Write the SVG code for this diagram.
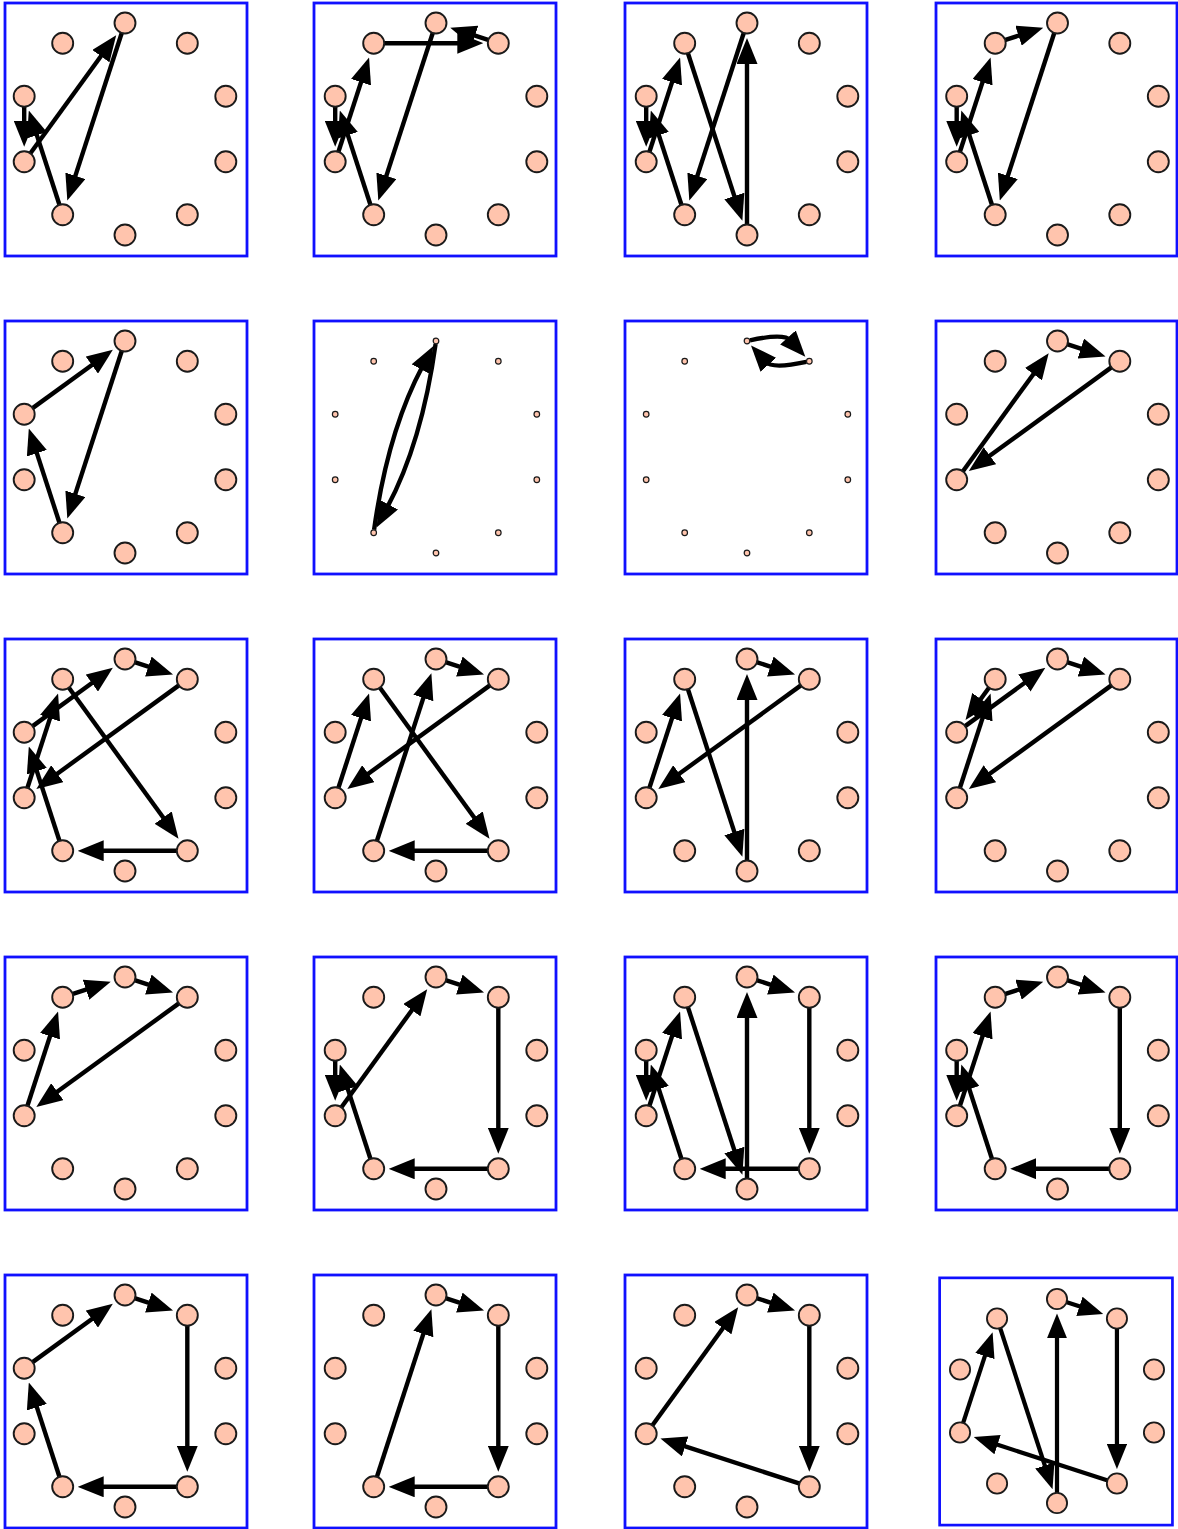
<svg xmlns="http://www.w3.org/2000/svg" width="1178" height="1529" viewBox="0 0 1178 1529">
<style>
.frame{fill:none;stroke:#1010ff;stroke-width:2.8}
.n{fill:#ffc4ad;stroke:#1a1a1a;stroke-width:1.9}
.t{fill:#ffc4ad;stroke:#1a1a1a;stroke-width:1.2}
.e{fill:none;stroke:#000;stroke-width:4.4;marker-end:url(#ah)}
</style>
<defs>
<marker id="ah" viewBox="0 0 26 21" markerWidth="26" markerHeight="21" refX="4" refY="10.5" orient="auto" markerUnits="userSpaceOnUse"><path d="M0,0 L26,10.5 L0,21 z" fill="#000"/></marker>
</defs>
<rect width="1178" height="1529" fill="#fff"/>

<!-- Row 1 -->
<g id="r1c1" transform="translate(125,129)">
<rect class="frame" x="-120" y="-126" width="242" height="253"/>
<g id="r1c1-edges">
<path class="e" d="M-94.93,24.67 L-21.75,-76.07"/>
<path class="e" d="M-3.09,-96.49 L-50.88,50.57"/>
<path class="e" d="M-65.40,76.25 L-89.38,2.43"/>
<path class="e" d="M-100.81,-22.76 L-100.81,-4.24"/>
</g>
<g id="r1c1-n0"><circle class="n" cx="0" cy="-106" r="10.5"/></g>
<g id="r1c1-n1"><circle class="n" cx="62.31" cy="-85.76" r="10.5"/></g>
<g id="r1c1-n2"><circle class="n" cx="100.81" cy="-32.76" r="10.5"/></g>
<g id="r1c1-n3"><circle class="n" cx="100.81" cy="32.76" r="10.5"/></g>
<g id="r1c1-n4"><circle class="n" cx="62.31" cy="85.76" r="10.5"/></g>
<g id="r1c1-n5"><circle class="n" cx="0" cy="106" r="10.5"/></g>
<g id="r1c1-n6"><circle class="n" cx="-62.31" cy="85.76" r="10.5"/></g>
<g id="r1c1-n7"><circle class="n" cx="-100.81" cy="32.76" r="10.5"/></g>
<g id="r1c1-n8"><circle class="n" cx="-100.81" cy="-32.76" r="10.5"/></g>
<g id="r1c1-n9"><circle class="n" cx="-62.31" cy="-85.76" r="10.5"/></g>
</g>

<g id="r1c2" transform="translate(436,129)">
<rect class="frame" x="-122" y="-126" width="242" height="253"/>
<g id="r1c2-edges">
<path class="e" d="M-52.31,-85.76 L25.31,-85.76"/>
<path class="e" d="M52.80,-88.85 L35.19,-94.57"/>
<path class="e" d="M-3.09,-96.49 L-50.88,50.57"/>
<path class="e" d="M-65.40,76.25 L-89.38,2.43"/>
<path class="e" d="M-100.81,-22.76 L-100.81,-4.24"/>
<path class="e" d="M-97.72,23.25 L-73.74,-50.57"/>
</g>
<g id="r1c2-n0"><circle class="n" cx="0" cy="-106" r="10.5"/></g>
<g id="r1c2-n1"><circle class="n" cx="62.31" cy="-85.76" r="10.5"/></g>
<g id="r1c2-n2"><circle class="n" cx="100.81" cy="-32.76" r="10.5"/></g>
<g id="r1c2-n3"><circle class="n" cx="100.81" cy="32.76" r="10.5"/></g>
<g id="r1c2-n4"><circle class="n" cx="62.31" cy="85.76" r="10.5"/></g>
<g id="r1c2-n5"><circle class="n" cx="0" cy="106" r="10.5"/></g>
<g id="r1c2-n6"><circle class="n" cx="-62.31" cy="85.76" r="10.5"/></g>
<g id="r1c2-n7"><circle class="n" cx="-100.81" cy="32.76" r="10.5"/></g>
<g id="r1c2-n8"><circle class="n" cx="-100.81" cy="-32.76" r="10.5"/></g>
<g id="r1c2-n9"><circle class="n" cx="-62.31" cy="-85.76" r="10.5"/></g>
</g>

<g id="r1c3" transform="translate(747,129)">
<rect class="frame" x="-122" y="-126" width="242" height="253"/>
<g id="r1c3-edges">
<path class="e" d="M-3.09,-96.49 L-50.88,50.57"/>
<path class="e" d="M-65.40,76.25 L-89.38,2.43"/>
<path class="e" d="M-100.81,-22.76 L-100.81,-4.24"/>
<path class="e" d="M-97.72,23.25 L-73.74,-50.57"/>
<path class="e" d="M-59.22,-76.25 L-11.43,70.81"/>
<path class="e" d="M0,96 L0,-69"/>
</g>
<g id="r1c3-n0"><circle class="n" cx="0" cy="-106" r="10.5"/></g>
<g id="r1c3-n1"><circle class="n" cx="62.31" cy="-85.76" r="10.5"/></g>
<g id="r1c3-n2"><circle class="n" cx="100.81" cy="-32.76" r="10.5"/></g>
<g id="r1c3-n3"><circle class="n" cx="100.81" cy="32.76" r="10.5"/></g>
<g id="r1c3-n4"><circle class="n" cx="62.31" cy="85.76" r="10.5"/></g>
<g id="r1c3-n5"><circle class="n" cx="0" cy="106" r="10.5"/></g>
<g id="r1c3-n6"><circle class="n" cx="-62.31" cy="85.76" r="10.5"/></g>
<g id="r1c3-n7"><circle class="n" cx="-100.81" cy="32.76" r="10.5"/></g>
<g id="r1c3-n8"><circle class="n" cx="-100.81" cy="-32.76" r="10.5"/></g>
<g id="r1c3-n9"><circle class="n" cx="-62.31" cy="-85.76" r="10.5"/></g>
</g>

<g id="r1c4" transform="translate(1057.5,129)">
<rect class="frame" x="-121.5" y="-126" width="241" height="253"/>
<g id="r1c4-edges">
<path class="e" d="M-52.80,-88.85 L-35.19,-94.57"/>
<path class="e" d="M-3.09,-96.49 L-50.88,50.57"/>
<path class="e" d="M-65.40,76.25 L-89.38,2.43"/>
<path class="e" d="M-100.81,-22.76 L-100.81,-4.24"/>
<path class="e" d="M-97.72,23.25 L-73.74,-50.57"/>
</g>
<g id="r1c4-n0"><circle class="n" cx="0" cy="-106" r="10.5"/></g>
<g id="r1c4-n1"><circle class="n" cx="62.31" cy="-85.76" r="10.5"/></g>
<g id="r1c4-n2"><circle class="n" cx="100.81" cy="-32.76" r="10.5"/></g>
<g id="r1c4-n3"><circle class="n" cx="100.81" cy="32.76" r="10.5"/></g>
<g id="r1c4-n4"><circle class="n" cx="62.31" cy="85.76" r="10.5"/></g>
<g id="r1c4-n5"><circle class="n" cx="0" cy="106" r="10.5"/></g>
<g id="r1c4-n6"><circle class="n" cx="-62.31" cy="85.76" r="10.5"/></g>
<g id="r1c4-n7"><circle class="n" cx="-100.81" cy="32.76" r="10.5"/></g>
<g id="r1c4-n8"><circle class="n" cx="-100.81" cy="-32.76" r="10.5"/></g>
<g id="r1c4-n9"><circle class="n" cx="-62.31" cy="-85.76" r="10.5"/></g>
</g>

<!-- Row 2 -->
<g id="r2c1" transform="translate(125,447)">
<rect class="frame" x="-120" y="-126" width="242" height="253"/>
<g id="r2c1-edges">
<path class="e" d="M-92.72,-38.64 L-29.93,-84.25"/>
<path class="e" d="M-3.09,-96.49 L-50.88,50.57"/>
<path class="e" d="M-65.40,76.25 L-89.38,2.43"/>
</g>
<g id="r2c1-n0"><circle class="n" cx="0" cy="-106" r="10.5"/></g>
<g id="r2c1-n1"><circle class="n" cx="62.31" cy="-85.76" r="10.5"/></g>
<g id="r2c1-n2"><circle class="n" cx="100.81" cy="-32.76" r="10.5"/></g>
<g id="r2c1-n3"><circle class="n" cx="100.81" cy="32.76" r="10.5"/></g>
<g id="r2c1-n4"><circle class="n" cx="62.31" cy="85.76" r="10.5"/></g>
<g id="r2c1-n5"><circle class="n" cx="0" cy="106" r="10.5"/></g>
<g id="r2c1-n6"><circle class="n" cx="-62.31" cy="85.76" r="10.5"/></g>
<g id="r2c1-n7"><circle class="n" cx="-100.81" cy="32.76" r="10.5"/></g>
<g id="r2c1-n8"><circle class="n" cx="-100.81" cy="-32.76" r="10.5"/></g>
<g id="r2c1-n9"><circle class="n" cx="-62.31" cy="-85.76" r="10.5"/></g>
</g>

<g id="r2c2" transform="translate(436,447)">
<rect class="frame" x="-122" y="-126" width="242" height="253"/>
<g id="r2c2-edges">
<path class="e" d="M-0.41,-103.03 Q-14.04,-4.56 -49.11,61.07"/>
<path class="e" d="M-61.90,82.79 Q-48.28,-15.68 -13.20,-81.30"/>
</g>
<g id="r2c2-n0"><circle class="t" cx="0" cy="-106" r="2.8"/></g>
<g id="r2c2-n1"><circle class="t" cx="62.31" cy="-85.76" r="2.8"/></g>
<g id="r2c2-n2"><circle class="t" cx="100.81" cy="-32.76" r="2.8"/></g>
<g id="r2c2-n3"><circle class="t" cx="100.81" cy="32.76" r="2.8"/></g>
<g id="r2c2-n4"><circle class="t" cx="62.31" cy="85.76" r="2.8"/></g>
<g id="r2c2-n5"><circle class="t" cx="0" cy="106" r="2.8"/></g>
<g id="r2c2-n6"><circle class="t" cx="-62.31" cy="85.76" r="2.8"/></g>
<g id="r2c2-n7"><circle class="t" cx="-100.81" cy="32.76" r="2.8"/></g>
<g id="r2c2-n8"><circle class="t" cx="-100.81" cy="-32.76" r="2.8"/></g>
<g id="r2c2-n9"><circle class="t" cx="-62.31" cy="-85.76" r="2.8"/></g>
</g>

<g id="r2c3" transform="translate(747,447)">
<rect class="frame" x="-122" y="-126" width="242" height="253"/>
<g id="r2c3-edges">
<path class="e" d="M2.93,-106.63 Q37.03,-113.95 43.62,-106.61"/>
<path class="e" d="M59.38,-85.13 Q25.28,-77.81 18.69,-85.15"/>
</g>
<g id="r2c3-n0"><circle class="t" cx="0" cy="-106" r="2.8"/></g>
<g id="r2c3-n1"><circle class="t" cx="62.31" cy="-85.76" r="2.8"/></g>
<g id="r2c3-n2"><circle class="t" cx="100.81" cy="-32.76" r="2.8"/></g>
<g id="r2c3-n3"><circle class="t" cx="100.81" cy="32.76" r="2.8"/></g>
<g id="r2c3-n4"><circle class="t" cx="62.31" cy="85.76" r="2.8"/></g>
<g id="r2c3-n5"><circle class="t" cx="0" cy="106" r="2.8"/></g>
<g id="r2c3-n6"><circle class="t" cx="-62.31" cy="85.76" r="2.8"/></g>
<g id="r2c3-n7"><circle class="t" cx="-100.81" cy="32.76" r="2.8"/></g>
<g id="r2c3-n8"><circle class="t" cx="-100.81" cy="-32.76" r="2.8"/></g>
<g id="r2c3-n9"><circle class="t" cx="-62.31" cy="-85.76" r="2.8"/></g>
</g>

<g id="r2c4" transform="translate(1057.5,447)">
<rect class="frame" x="-121.5" y="-126" width="241" height="253"/>
<g id="r2c4-edges">
<path class="e" d="M9.51,-102.91 L27.12,-97.19"/>
<path class="e" d="M54.22,-79.88 L-70.88,11.01"/>
<path class="e" d="M-94.93,24.67 L-21.75,-76.07"/>
</g>
<g id="r2c4-n0"><circle class="n" cx="0" cy="-106" r="10.5"/></g>
<g id="r2c4-n1"><circle class="n" cx="62.31" cy="-85.76" r="10.5"/></g>
<g id="r2c4-n2"><circle class="n" cx="100.81" cy="-32.76" r="10.5"/></g>
<g id="r2c4-n3"><circle class="n" cx="100.81" cy="32.76" r="10.5"/></g>
<g id="r2c4-n4"><circle class="n" cx="62.31" cy="85.76" r="10.5"/></g>
<g id="r2c4-n5"><circle class="n" cx="0" cy="106" r="10.5"/></g>
<g id="r2c4-n6"><circle class="n" cx="-62.31" cy="85.76" r="10.5"/></g>
<g id="r2c4-n7"><circle class="n" cx="-100.81" cy="32.76" r="10.5"/></g>
<g id="r2c4-n8"><circle class="n" cx="-100.81" cy="-32.76" r="10.5"/></g>
<g id="r2c4-n9"><circle class="n" cx="-62.31" cy="-85.76" r="10.5"/></g>
</g>

<!-- Row 3 -->
<g id="r3c1" transform="translate(125,765)">
<rect class="frame" x="-120" y="-126" width="242" height="253"/>
<g id="r3c1-edges">
<path class="e" d="M9.51,-102.91 L27.12,-97.19"/>
<path class="e" d="M54.22,-79.88 L-70.88,11.01"/>
<path class="e" d="M-97.72,23.25 L-73.74,-50.57"/>
<path class="e" d="M-56.43,-77.67 L40.56,55.83"/>
<path class="e" d="M52.31,85.76 L-25.31,85.76"/>
<path class="e" d="M-65.40,76.25 L-89.38,2.43"/>
<path class="e" d="M-92.72,-38.64 L-29.93,-84.25"/>
</g>
<g id="r3c1-n0"><circle class="n" cx="0" cy="-106" r="10.5"/></g>
<g id="r3c1-n1"><circle class="n" cx="62.31" cy="-85.76" r="10.5"/></g>
<g id="r3c1-n2"><circle class="n" cx="100.81" cy="-32.76" r="10.5"/></g>
<g id="r3c1-n3"><circle class="n" cx="100.81" cy="32.76" r="10.5"/></g>
<g id="r3c1-n4"><circle class="n" cx="62.31" cy="85.76" r="10.5"/></g>
<g id="r3c1-n5"><circle class="n" cx="0" cy="106" r="10.5"/></g>
<g id="r3c1-n6"><circle class="n" cx="-62.31" cy="85.76" r="10.5"/></g>
<g id="r3c1-n7"><circle class="n" cx="-100.81" cy="32.76" r="10.5"/></g>
<g id="r3c1-n8"><circle class="n" cx="-100.81" cy="-32.76" r="10.5"/></g>
<g id="r3c1-n9"><circle class="n" cx="-62.31" cy="-85.76" r="10.5"/></g>
</g>

<g id="r3c2" transform="translate(436,765)">
<rect class="frame" x="-122" y="-126" width="242" height="253"/>
<g id="r3c2-edges">
<path class="e" d="M9.51,-102.91 L27.12,-97.19"/>
<path class="e" d="M54.22,-79.88 L-70.88,11.01"/>
<path class="e" d="M-97.72,23.25 L-73.74,-50.57"/>
<path class="e" d="M-56.43,-77.67 L40.56,55.83"/>
<path class="e" d="M52.31,85.76 L-25.31,85.76"/>
<path class="e" d="M-59.22,76.25 L-11.43,-70.81"/>
</g>
<g id="r3c2-n0"><circle class="n" cx="0" cy="-106" r="10.5"/></g>
<g id="r3c2-n1"><circle class="n" cx="62.31" cy="-85.76" r="10.5"/></g>
<g id="r3c2-n2"><circle class="n" cx="100.81" cy="-32.76" r="10.5"/></g>
<g id="r3c2-n3"><circle class="n" cx="100.81" cy="32.76" r="10.5"/></g>
<g id="r3c2-n4"><circle class="n" cx="62.31" cy="85.76" r="10.5"/></g>
<g id="r3c2-n5"><circle class="n" cx="0" cy="106" r="10.5"/></g>
<g id="r3c2-n6"><circle class="n" cx="-62.31" cy="85.76" r="10.5"/></g>
<g id="r3c2-n7"><circle class="n" cx="-100.81" cy="32.76" r="10.5"/></g>
<g id="r3c2-n8"><circle class="n" cx="-100.81" cy="-32.76" r="10.5"/></g>
<g id="r3c2-n9"><circle class="n" cx="-62.31" cy="-85.76" r="10.5"/></g>
</g>

<g id="r3c3" transform="translate(747,765)">
<rect class="frame" x="-122" y="-126" width="242" height="253"/>
<g id="r3c3-edges">
<path class="e" d="M9.51,-102.91 L27.12,-97.19"/>
<path class="e" d="M54.22,-79.88 L-70.88,11.01"/>
<path class="e" d="M-97.72,23.25 L-73.74,-50.57"/>
<path class="e" d="M-59.22,-76.25 L-11.43,70.81"/>
<path class="e" d="M0,96 L0,-69"/>
</g>
<g id="r3c3-n0"><circle class="n" cx="0" cy="-106" r="10.5"/></g>
<g id="r3c3-n1"><circle class="n" cx="62.31" cy="-85.76" r="10.5"/></g>
<g id="r3c3-n2"><circle class="n" cx="100.81" cy="-32.76" r="10.5"/></g>
<g id="r3c3-n3"><circle class="n" cx="100.81" cy="32.76" r="10.5"/></g>
<g id="r3c3-n4"><circle class="n" cx="62.31" cy="85.76" r="10.5"/></g>
<g id="r3c3-n5"><circle class="n" cx="0" cy="106" r="10.5"/></g>
<g id="r3c3-n6"><circle class="n" cx="-62.31" cy="85.76" r="10.5"/></g>
<g id="r3c3-n7"><circle class="n" cx="-100.81" cy="32.76" r="10.5"/></g>
<g id="r3c3-n8"><circle class="n" cx="-100.81" cy="-32.76" r="10.5"/></g>
<g id="r3c3-n9"><circle class="n" cx="-62.31" cy="-85.76" r="10.5"/></g>
</g>

<g id="r3c4" transform="translate(1057.5,765)">
<rect class="frame" x="-121.5" y="-126" width="241" height="253"/>
<g id="r3c4-edges">
<path class="e" d="M9.51,-102.91 L27.12,-97.19"/>
<path class="e" d="M54.22,-79.88 L-70.88,11.01"/>
<path class="e" d="M-97.72,23.25 L-73.74,-50.57"/>
<path class="e" d="M-68.19,-77.67 L-79.06,-62.69"/>
<path class="e" d="M-92.72,-38.64 L-29.93,-84.25"/>
</g>
<g id="r3c4-n0"><circle class="n" cx="0" cy="-106" r="10.5"/></g>
<g id="r3c4-n1"><circle class="n" cx="62.31" cy="-85.76" r="10.5"/></g>
<g id="r3c4-n2"><circle class="n" cx="100.81" cy="-32.76" r="10.5"/></g>
<g id="r3c4-n3"><circle class="n" cx="100.81" cy="32.76" r="10.5"/></g>
<g id="r3c4-n4"><circle class="n" cx="62.31" cy="85.76" r="10.5"/></g>
<g id="r3c4-n5"><circle class="n" cx="0" cy="106" r="10.5"/></g>
<g id="r3c4-n6"><circle class="n" cx="-62.31" cy="85.76" r="10.5"/></g>
<g id="r3c4-n7"><circle class="n" cx="-100.81" cy="32.76" r="10.5"/></g>
<g id="r3c4-n8"><circle class="n" cx="-100.81" cy="-32.76" r="10.5"/></g>
<g id="r3c4-n9"><circle class="n" cx="-62.31" cy="-85.76" r="10.5"/></g>
</g>

<!-- Row 4 -->
<g id="r4c1" transform="translate(125,1083)">
<rect class="frame" x="-120" y="-126" width="242" height="253"/>
<g id="r4c1-edges">
<path class="e" d="M-52.80,-88.85 L-35.19,-94.57"/>
<path class="e" d="M9.51,-102.91 L27.12,-97.19"/>
<path class="e" d="M54.22,-79.88 L-70.88,11.01"/>
<path class="e" d="M-97.72,23.25 L-73.74,-50.57"/>
</g>
<g id="r4c1-n0"><circle class="n" cx="0" cy="-106" r="10.5"/></g>
<g id="r4c1-n1"><circle class="n" cx="62.31" cy="-85.76" r="10.5"/></g>
<g id="r4c1-n2"><circle class="n" cx="100.81" cy="-32.76" r="10.5"/></g>
<g id="r4c1-n3"><circle class="n" cx="100.81" cy="32.76" r="10.5"/></g>
<g id="r4c1-n4"><circle class="n" cx="62.31" cy="85.76" r="10.5"/></g>
<g id="r4c1-n5"><circle class="n" cx="0" cy="106" r="10.5"/></g>
<g id="r4c1-n6"><circle class="n" cx="-62.31" cy="85.76" r="10.5"/></g>
<g id="r4c1-n7"><circle class="n" cx="-100.81" cy="32.76" r="10.5"/></g>
<g id="r4c1-n8"><circle class="n" cx="-100.81" cy="-32.76" r="10.5"/></g>
<g id="r4c1-n9"><circle class="n" cx="-62.31" cy="-85.76" r="10.5"/></g>
</g>

<g id="r4c2" transform="translate(436,1083)">
<rect class="frame" x="-122" y="-126" width="242" height="253"/>
<g id="r4c2-edges">
<path class="e" d="M9.51,-102.91 L27.12,-97.19"/>
<path class="e" d="M62.31,-75.76 L62.31,48.76"/>
<path class="e" d="M52.31,85.76 L-25.31,85.76"/>
<path class="e" d="M-65.40,76.25 L-89.38,2.43"/>
<path class="e" d="M-100.81,-22.76 L-100.81,-4.24"/>
<path class="e" d="M-94.93,24.67 L-21.75,-76.07"/>
</g>
<g id="r4c2-n0"><circle class="n" cx="0" cy="-106" r="10.5"/></g>
<g id="r4c2-n1"><circle class="n" cx="62.31" cy="-85.76" r="10.5"/></g>
<g id="r4c2-n2"><circle class="n" cx="100.81" cy="-32.76" r="10.5"/></g>
<g id="r4c2-n3"><circle class="n" cx="100.81" cy="32.76" r="10.5"/></g>
<g id="r4c2-n4"><circle class="n" cx="62.31" cy="85.76" r="10.5"/></g>
<g id="r4c2-n5"><circle class="n" cx="0" cy="106" r="10.5"/></g>
<g id="r4c2-n6"><circle class="n" cx="-62.31" cy="85.76" r="10.5"/></g>
<g id="r4c2-n7"><circle class="n" cx="-100.81" cy="32.76" r="10.5"/></g>
<g id="r4c2-n8"><circle class="n" cx="-100.81" cy="-32.76" r="10.5"/></g>
<g id="r4c2-n9"><circle class="n" cx="-62.31" cy="-85.76" r="10.5"/></g>
</g>

<g id="r4c3" transform="translate(747,1083)">
<rect class="frame" x="-122" y="-126" width="242" height="253"/>
<g id="r4c3-edges">
<path class="e" d="M9.51,-102.91 L27.12,-97.19"/>
<path class="e" d="M62.31,-75.76 L62.31,48.76"/>
<path class="e" d="M52.31,85.76 L-25.31,85.76"/>
<path class="e" d="M-65.40,76.25 L-89.38,2.43"/>
<path class="e" d="M-100.81,-22.76 L-100.81,-4.24"/>
<path class="e" d="M-97.72,23.25 L-73.74,-50.57"/>
<path class="e" d="M-59.22,-76.25 L-11.43,70.81"/>
<path class="e" d="M0,96 L0,-69"/>
</g>
<g id="r4c3-n0"><circle class="n" cx="0" cy="-106" r="10.5"/></g>
<g id="r4c3-n1"><circle class="n" cx="62.31" cy="-85.76" r="10.5"/></g>
<g id="r4c3-n2"><circle class="n" cx="100.81" cy="-32.76" r="10.5"/></g>
<g id="r4c3-n3"><circle class="n" cx="100.81" cy="32.76" r="10.5"/></g>
<g id="r4c3-n4"><circle class="n" cx="62.31" cy="85.76" r="10.5"/></g>
<g id="r4c3-n5"><circle class="n" cx="0" cy="106" r="10.5"/></g>
<g id="r4c3-n6"><circle class="n" cx="-62.31" cy="85.76" r="10.5"/></g>
<g id="r4c3-n7"><circle class="n" cx="-100.81" cy="32.76" r="10.5"/></g>
<g id="r4c3-n8"><circle class="n" cx="-100.81" cy="-32.76" r="10.5"/></g>
<g id="r4c3-n9"><circle class="n" cx="-62.31" cy="-85.76" r="10.5"/></g>
</g>

<g id="r4c4" transform="translate(1057.5,1083)">
<rect class="frame" x="-121.5" y="-126" width="241" height="253"/>
<g id="r4c4-edges">
<path class="e" d="M-52.80,-88.85 L-35.19,-94.57"/>
<path class="e" d="M9.51,-102.91 L27.12,-97.19"/>
<path class="e" d="M62.31,-75.76 L62.31,48.76"/>
<path class="e" d="M52.31,85.76 L-25.31,85.76"/>
<path class="e" d="M-65.40,76.25 L-89.38,2.43"/>
<path class="e" d="M-100.81,-22.76 L-100.81,-4.24"/>
<path class="e" d="M-97.72,23.25 L-73.74,-50.57"/>
</g>
<g id="r4c4-n0"><circle class="n" cx="0" cy="-106" r="10.5"/></g>
<g id="r4c4-n1"><circle class="n" cx="62.31" cy="-85.76" r="10.5"/></g>
<g id="r4c4-n2"><circle class="n" cx="100.81" cy="-32.76" r="10.5"/></g>
<g id="r4c4-n3"><circle class="n" cx="100.81" cy="32.76" r="10.5"/></g>
<g id="r4c4-n4"><circle class="n" cx="62.31" cy="85.76" r="10.5"/></g>
<g id="r4c4-n5"><circle class="n" cx="0" cy="106" r="10.5"/></g>
<g id="r4c4-n6"><circle class="n" cx="-62.31" cy="85.76" r="10.5"/></g>
<g id="r4c4-n7"><circle class="n" cx="-100.81" cy="32.76" r="10.5"/></g>
<g id="r4c4-n8"><circle class="n" cx="-100.81" cy="-32.76" r="10.5"/></g>
<g id="r4c4-n9"><circle class="n" cx="-62.31" cy="-85.76" r="10.5"/></g>
</g>

<!-- Row 5 -->
<g id="r5c1" transform="translate(125,1401)">
<rect class="frame" x="-120" y="-126" width="242" height="253"/>
<g id="r5c1-edges">
<path class="e" d="M-92.72,-38.64 L-29.93,-84.25"/>
<path class="e" d="M9.51,-102.91 L27.12,-97.19"/>
<path class="e" d="M62.31,-75.76 L62.31,48.76"/>
<path class="e" d="M52.31,85.76 L-25.31,85.76"/>
<path class="e" d="M-65.40,76.25 L-89.38,2.43"/>
</g>
<g id="r5c1-n0"><circle class="n" cx="0" cy="-106" r="10.5"/></g>
<g id="r5c1-n1"><circle class="n" cx="62.31" cy="-85.76" r="10.5"/></g>
<g id="r5c1-n2"><circle class="n" cx="100.81" cy="-32.76" r="10.5"/></g>
<g id="r5c1-n3"><circle class="n" cx="100.81" cy="32.76" r="10.5"/></g>
<g id="r5c1-n4"><circle class="n" cx="62.31" cy="85.76" r="10.5"/></g>
<g id="r5c1-n5"><circle class="n" cx="0" cy="106" r="10.5"/></g>
<g id="r5c1-n6"><circle class="n" cx="-62.31" cy="85.76" r="10.5"/></g>
<g id="r5c1-n7"><circle class="n" cx="-100.81" cy="32.76" r="10.5"/></g>
<g id="r5c1-n8"><circle class="n" cx="-100.81" cy="-32.76" r="10.5"/></g>
<g id="r5c1-n9"><circle class="n" cx="-62.31" cy="-85.76" r="10.5"/></g>
</g>

<g id="r5c2" transform="translate(436,1401)">
<rect class="frame" x="-122" y="-126" width="242" height="253"/>
<g id="r5c2-edges">
<path class="e" d="M-59.22,76.25 L-11.43,-70.81"/>
<path class="e" d="M9.51,-102.91 L27.12,-97.19"/>
<path class="e" d="M62.31,-75.76 L62.31,48.76"/>
<path class="e" d="M52.31,85.76 L-25.31,85.76"/>
</g>
<g id="r5c2-n0"><circle class="n" cx="0" cy="-106" r="10.5"/></g>
<g id="r5c2-n1"><circle class="n" cx="62.31" cy="-85.76" r="10.5"/></g>
<g id="r5c2-n2"><circle class="n" cx="100.81" cy="-32.76" r="10.5"/></g>
<g id="r5c2-n3"><circle class="n" cx="100.81" cy="32.76" r="10.5"/></g>
<g id="r5c2-n4"><circle class="n" cx="62.31" cy="85.76" r="10.5"/></g>
<g id="r5c2-n5"><circle class="n" cx="0" cy="106" r="10.5"/></g>
<g id="r5c2-n6"><circle class="n" cx="-62.31" cy="85.76" r="10.5"/></g>
<g id="r5c2-n7"><circle class="n" cx="-100.81" cy="32.76" r="10.5"/></g>
<g id="r5c2-n8"><circle class="n" cx="-100.81" cy="-32.76" r="10.5"/></g>
<g id="r5c2-n9"><circle class="n" cx="-62.31" cy="-85.76" r="10.5"/></g>
</g>

<g id="r5c3" transform="translate(747,1401)">
<rect class="frame" x="-122" y="-126" width="242" height="253"/>
<g id="r5c3-edges">
<path class="e" d="M-94.93,24.67 L-21.75,-76.07"/>
<path class="e" d="M9.51,-102.91 L27.12,-97.19"/>
<path class="e" d="M62.31,-75.76 L62.31,48.76"/>
<path class="e" d="M52.80,82.67 L-65.62,44.19"/>
</g>
<g id="r5c3-n0"><circle class="n" cx="0" cy="-106" r="10.5"/></g>
<g id="r5c3-n1"><circle class="n" cx="62.31" cy="-85.76" r="10.5"/></g>
<g id="r5c3-n2"><circle class="n" cx="100.81" cy="-32.76" r="10.5"/></g>
<g id="r5c3-n3"><circle class="n" cx="100.81" cy="32.76" r="10.5"/></g>
<g id="r5c3-n4"><circle class="n" cx="62.31" cy="85.76" r="10.5"/></g>
<g id="r5c3-n5"><circle class="n" cx="0" cy="106" r="10.5"/></g>
<g id="r5c3-n6"><circle class="n" cx="-62.31" cy="85.76" r="10.5"/></g>
<g id="r5c3-n7"><circle class="n" cx="-100.81" cy="32.76" r="10.5"/></g>
<g id="r5c3-n8"><circle class="n" cx="-100.81" cy="-32.76" r="10.5"/></g>
<g id="r5c3-n9"><circle class="n" cx="-62.31" cy="-85.76" r="10.5"/></g>
</g>

<g id="r5c4" transform="translate(1057,1401) scale(0.962)">
<rect class="frame" x="-122" y="-128" width="242" height="257"/>
<g id="r5c4-edges">
<path class="e" d="M9.51,-102.91 L27.12,-97.19"/>
<path class="e" d="M62.31,-75.76 L62.31,48.76"/>
<path class="e" d="M52.80,82.67 L-65.62,44.19"/>
<path class="e" d="M-97.72,23.25 L-73.74,-50.57"/>
<path class="e" d="M-59.22,-76.25 L-11.43,70.81"/>
<path class="e" d="M0,96 L0,-69"/>
</g>
<g id="r5c4-n0"><circle class="n" cx="0" cy="-106" r="10.5"/></g>
<g id="r5c4-n1"><circle class="n" cx="62.31" cy="-85.76" r="10.5"/></g>
<g id="r5c4-n2"><circle class="n" cx="100.81" cy="-32.76" r="10.5"/></g>
<g id="r5c4-n3"><circle class="n" cx="100.81" cy="32.76" r="10.5"/></g>
<g id="r5c4-n4"><circle class="n" cx="62.31" cy="85.76" r="10.5"/></g>
<g id="r5c4-n5"><circle class="n" cx="0" cy="106" r="10.5"/></g>
<g id="r5c4-n6"><circle class="n" cx="-62.31" cy="85.76" r="10.5"/></g>
<g id="r5c4-n7"><circle class="n" cx="-100.81" cy="32.76" r="10.5"/></g>
<g id="r5c4-n8"><circle class="n" cx="-100.81" cy="-32.76" r="10.5"/></g>
<g id="r5c4-n9"><circle class="n" cx="-62.31" cy="-85.76" r="10.5"/></g>
</g>
</svg>
